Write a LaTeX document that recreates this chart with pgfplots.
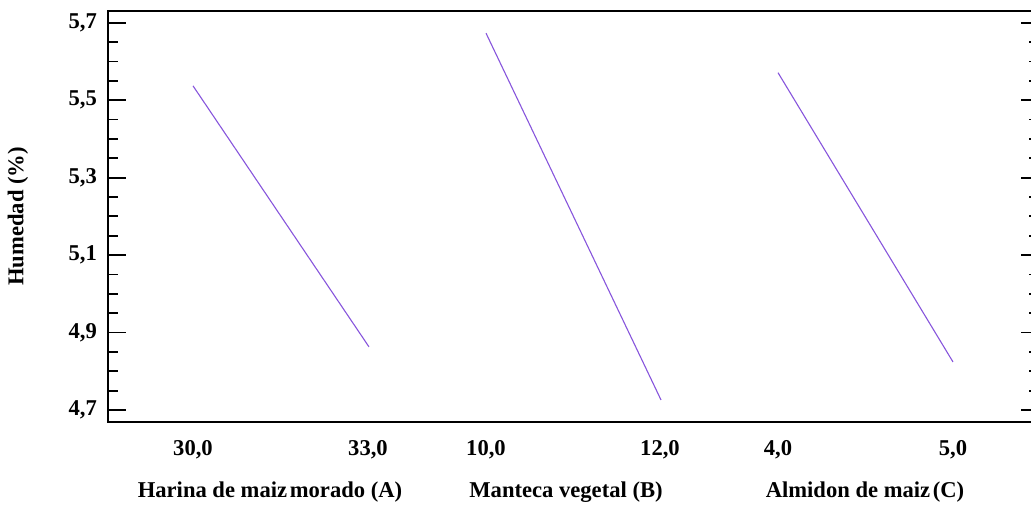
\documentclass[border=0pt]{standalone}
\usepackage{pgfplots}
\pgfplotsset{compat=1.18}
\usepackage{fontspec}
\setmainfont{Liberation Serif}
\definecolor{linea}{RGB}{135,85,220}
\newcommand{\lbl}{\fontsize{11.3}{13}\selectfont\bfseries}
\begin{document}
\begin{tikzpicture}
\begin{axis}[
    scale only axis,
    width=465.5pt, height=205.65pt,
    xmin=108, xmax=1039,
    ymin=4.669, ymax=5.731,
    clip=false,
    axis line style={line width=1pt},
    tick align=inside,
    ytick={4.7,4.9,5.1,5.3,5.5,5.7},
    minor y tick num=3,
    ytick pos=both,
    major tick length=8.8pt,
    minor tick length=5pt,
    every tick/.style={black, line width=0.9pt},
    xtick={193,368,486,660,778,953},
    xticklabels={{30,0},{33,0},{10,0},{12,0},{4,0},{5,0}},
    xtick style={draw=none},
    /pgf/number format/fixed,
    /pgf/number format/fixed zerofill,
    /pgf/number format/precision=1,
    /pgf/number format/use comma,
    /pgf/number format/assume math mode=true,
    tick label style={font=\lbl},
    yticklabel style={xshift=-2pt},
    xticklabel style={yshift=-5.5pt},
]
% efectos principales
\addplot[linea, line width=0.55pt] coordinates {(193,5.537) (369,4.863)};
\addplot[linea, line width=0.55pt] coordinates {(486,5.673) (661,4.726)};
\addplot[linea, line width=0.55pt] coordinates {(778,5.571) (953,4.824)};
\node[font=\lbl] at ([yshift=-35pt]axis cs:270,4.669) {Harina de maiz\hspace{-1.5pt} morado (A)};
\node[font=\lbl] at ([yshift=-35pt]axis cs:566,4.669) {Manteca vegetal (B)};
\node[font=\lbl] at ([yshift=-35pt]axis cs:865,4.669) {Almidon de maiz\hspace{-1.5pt} (C)};
\node[rotate=90, font=\lbl] at ([xshift=-45pt]rel axis cs:0,0.5) {Humedad (\%)};
\end{axis}
\pgfresetboundingbox
\path[use as bounding box] ([shift={(-54pt,-41pt)}]current axis.south west) rectangle ([shift={(-4pt,5.35pt)}]current axis.north east);
\end{tikzpicture}
\end{document}
